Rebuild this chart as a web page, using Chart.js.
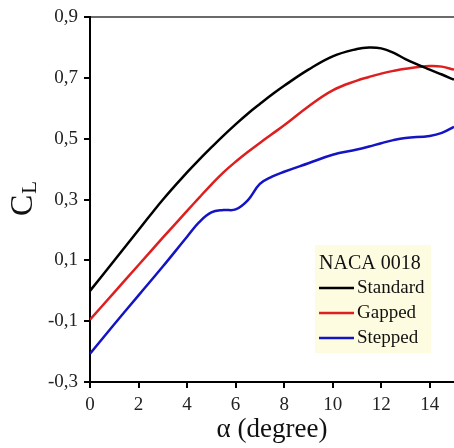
<!DOCTYPE html>
<html>
<head>
<meta charset="utf-8">
<script src="https://cdn.jsdelivr.net/npm/chart.js@4/dist/chart.umd.min.js"></script>
<style>
  html, body { margin: 0; padding: 0; background: #fff; }
  canvas { display: block; }
</style>
</head>
<body>
<canvas id="myChart" width="454" height="448"></canvas>
<script>
// angle of attack (degree)
var alpha    = [0, 1, 2, 3, 4, 4.5, 5, 5.5, 6, 6.5, 7, 7.5, 8, 9, 10, 11, 11.5, 12, 12.5, 13, 14, 14.5, 15];
var standard = [0.0, 0.10, 0.20, 0.30, 0.39, 0.432, 0.472, 0.511, 0.548, 0.583, 0.615, 0.646, 0.675, 0.728, 0.772, 0.796, 0.801, 0.798, 0.784, 0.763, 0.728, 0.712, 0.695];
var gapped   = [-0.095, -0.005, 0.085, 0.175, 0.263, 0.307, 0.35, 0.39, 0.425, 0.457, 0.487, 0.516, 0.545, 0.607, 0.66, 0.692, 0.704, 0.715, 0.724, 0.731, 0.74, 0.738, 0.728];
var stepped  = [-0.207, -0.11, -0.015, 0.08, 0.178, 0.226, 0.258, 0.266, 0.268, 0.298, 0.352, 0.376, 0.392, 0.42, 0.448, 0.465, 0.475, 0.486, 0.496, 0.503, 0.51, 0.52, 0.54];

var xTicks = [0, 2, 4, 6, 8, 10, 12, 14];
var yTicks = [-0.3, -0.1, 0.1, 0.3, 0.5, 0.7, 0.9];

var legendTitle = 'NACA 0018';
var serif = "'Liberation Serif', 'DejaVu Serif', serif";

function pts(ys) {
    var out = [];
    for (var i = 0; i < alpha.length; i++) {
        out.push({ x: alpha[i], y: ys[i] });
    }
    return out;
}

// C_L title with subscript, rotated
var yTitlePlugin = {
    id: 'yTitle',
    afterDraw: function (chart) {
        var ctx = chart.ctx;
        ctx.save();
        ctx.translate(32, 216);
        ctx.rotate(-Math.PI / 2);
        ctx.fillStyle = '#111';
        ctx.textBaseline = 'alphabetic';
        ctx.textAlign = 'left';
        ctx.font = '32px ' + serif;
        ctx.fillText('C', 0, 0);
        var w = ctx.measureText('C').width;
        ctx.font = '21px ' + serif;
        ctx.fillText('L', w + 1, 4);
        ctx.restore();
    }
};

// boxed legend inside the plot
var boxLegendPlugin = {
    id: 'boxLegend',
    afterDraw: function (chart) {
        var ctx = chart.ctx;
        var x0 = 315, y0 = 245, w = 116, h = 108;
        ctx.save();
        ctx.fillStyle = '#fdfce1';
        ctx.fillRect(x0, y0, w, h);
        ctx.fillStyle = '#111';
        ctx.font = '20px ' + serif;
        ctx.textBaseline = 'middle';
        ctx.textAlign = 'left';
        ctx.fillText(legendTitle, x0 + 4, y0 + 19);
        var ds = chart.data.datasets;
        for (var i = 0; i < ds.length; i++) {
            var yy = y0 + 43 + i * 25;
            ctx.strokeStyle = ds[i].borderColor;
            ctx.lineWidth = 2.5;
            ctx.beginPath();
            ctx.moveTo(x0 + 4, yy);
            ctx.lineTo(x0 + 39, yy);
            ctx.stroke();
            ctx.fillStyle = '#111';
            ctx.font = '19px ' + serif;
            ctx.fillText(ds[i].label, x0 + 42, yy);
        }
        ctx.restore();
    }
};

var ctx = document.getElementById('myChart').getContext('2d');
var chart = new Chart(ctx, {
    type: 'line',
    data: {
        datasets: [
            { label: 'Standard', data: pts(standard), borderColor: '#000000' },
            { label: 'Gapped', data: pts(gapped), borderColor: '#dd1f1f' },
            { label: 'Stepped', data: pts(stepped), borderColor: '#1414c4' }
        ]
    },
    options: {
        responsive: false,
        animation: false,
        layout: { padding: { top: 16, left: 0, right: 0, bottom: 0 } },
        elements: {
            point: { radius: 0 },
            line: { borderWidth: 2.5, tension: 0.4, fill: false }
        },
        plugins: {
            legend: { display: false },
            tooltip: { enabled: false }
        },
        scales: {
            x: {
                type: 'linear',
                min: 0,
                max: 15,
                afterFit: function (scale) { scale.height = 66; },
                afterBuildTicks: function (scale) {
                    scale.ticks = xTicks.map(function (v) { return { value: v }; });
                },
                border: { color: '#000', width: 2 },
                grid: { drawOnChartArea: false, tickLength: 6, tickColor: '#000', lineWidth: 2 },
                ticks: {
                    autoSkip: false,
                    maxRotation: 0,
                    padding: 6,
                    color: '#222',
                    font: { family: serif, size: 19 }
                },
                title: {
                    display: true,
                    text: 'α (degree)',
                    color: '#111',
                    font: { family: serif, size: 27 },
                    padding: { top: 0, bottom: 2 }
                }
            },
            y: {
                min: -0.3,
                max: 0.9,
                afterFit: function (scale) { scale.width = 90; },
                afterBuildTicks: function (scale) {
                    scale.ticks = yTicks.map(function (v) { return { value: v }; });
                },
                border: { color: '#000', width: 2 },
                grid: {
                    drawOnChartArea: true,
                    tickLength: 6,
                    tickColor: '#000',
                    lineWidth: 2,
                    color: function (c) {
                        return (c.tick && c.tick.value === 0.9) ? '#6a6a6a' : 'rgba(0,0,0,0)';
                    }
                },
                ticks: {
                    autoSkip: false,
                    padding: 6,
                    color: '#222',
                    font: { family: serif, size: 19 },
                    callback: function (v) { return v.toFixed(1).replace('.', ','); }
                }
            }
        }
    },
    plugins: [yTitlePlugin, boxLegendPlugin]
});
</script>
</body>
</html>
